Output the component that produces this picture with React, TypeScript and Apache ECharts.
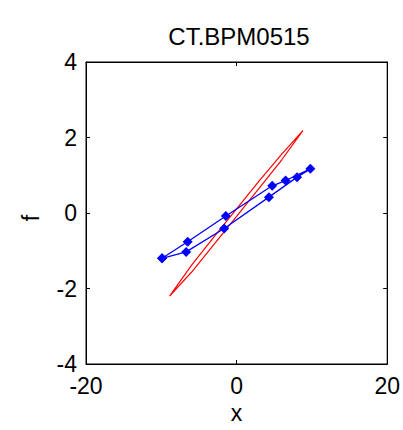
import React, { useEffect, useRef } from "react";
import * as echarts from "echarts";

const titleText = "CT.BPM0515";
const xName = "x";
const yName = "f";
const xTickMin = -20;
const xTickMax = 20;
const xTickStep = 20;
const yTickMin = -4;
const yTickMax = 4;
const yTickStep = 2;

// red loop
const redX = [-8.9, -6, -3, 0, 3, 6, 8.8, 6, 3, 0, -3, -6, -8.9];
const redY = [-2.2, -1.39, -0.63, 0.11, 0.85, 1.56, 2.18, 1.41, 0.66, -0.09, -0.83, -1.57, -2.2];

// blue loop with diamond markers
const blueX = [-9.9, -6.5, -1.43, 4.73, 6.5, 9.8, 8.03, 4.29, -1.65, -6.7, -9.9];
const blueY = [-1.2, -0.76, -0.08, 0.72, 0.86, 1.17, 0.95, 0.42, -0.41, -1.03, -1.2];

const FONT = "'Liberation Sans', Arial, sans-serif";

export default function App() {
  const ref = useRef<HTMLDivElement>(null);
  useEffect(() => {
    if (!ref.current) return;
    const chart = echarts.init(ref.current, null, { renderer: "svg" });
    const textStyle = { fontFamily: FONT, fontSize: 23, color: "#000" };
    const baseX = {
      type: "value" as const,
      min: xTickMin,
      max: xTickMax,
      interval: xTickStep,
      splitLine: { show: false },
      axisLine: { show: true, onZero: false, lineStyle: { color: "#000", width: 1 } },
      axisTick: { show: true, inside: true, length: 4, lineStyle: { color: "#000" } },
    };
    const baseY = {
      type: "value" as const,
      min: yTickMin,
      max: yTickMax,
      interval: yTickStep,
      splitLine: { show: false },
      axisLine: { show: true, onZero: false, lineStyle: { color: "#000", width: 1 } },
      axisTick: { show: true, inside: true, length: 4, lineStyle: { color: "#000" } },
    };
    chart.setOption({
      animation: false,
      backgroundColor: "#fff",
      title: {
        text: titleText,
        left: 234,
        top: 19,
        textAlign: "center",
        textStyle: { ...textStyle, fontSize: 24, fontWeight: "normal" },
      },
      graphic: [
        {
          type: "group",
          x: 31,
          y: 218,
          rotation: Math.PI / 2,
          children: [
            {
              type: "text",
              x: 0,
              y: 0,
              style: {
                text: yName,
                font: "23px " + FONT,
                fill: "#000",
                align: "center",
                verticalAlign: "middle",
              },
            },
          ],
        },
      ],
      grid: {
        left: 86,
        top: 62,
        width: 303,
        height: 302,
        show: true,
        borderColor: "#000",
        borderWidth: 1,
        backgroundColor: "#fff",
      },
      xAxis: [
        {
          ...baseX,
          position: "bottom",
          name: xName,
          nameLocation: "middle",
          nameGap: 34,
          nameTextStyle: textStyle,
          axisLabel: { ...textStyle, margin: 10 },
        },
        { ...baseX, position: "top", axisLabel: { show: false } },
      ],
      yAxis: [
        {
          ...baseY,
          position: "left",
          axisLabel: { ...textStyle, margin: 9 },
        },
        { ...baseY, position: "right", axisLabel: { show: false } },
      ],
      series: [
        {
          type: "line",
          data: redX.map((x, i) => [x, redY[i]]),
          showSymbol: false,
          symbol: "none",
          lineStyle: { color: "#ff0000", width: 1.2 },
          itemStyle: { color: "#ff0000" },
          z: 2,
        },
        {
          type: "line",
          data: blueX.map((x, i) => [x, blueY[i]]),
          symbol: "diamond",
          symbolSize: 10,
          lineStyle: { color: "#0000ff", width: 1.3 },
          itemStyle: { color: "#0000ff" },
          z: 3,
        },
      ],
    });
    return () => chart.dispose();
  }, []);
  return (
    <div
      ref={ref}
      style={{ position: "fixed", left: 0, top: 0, width: 403, height: 430 }}
    />
  );
}
